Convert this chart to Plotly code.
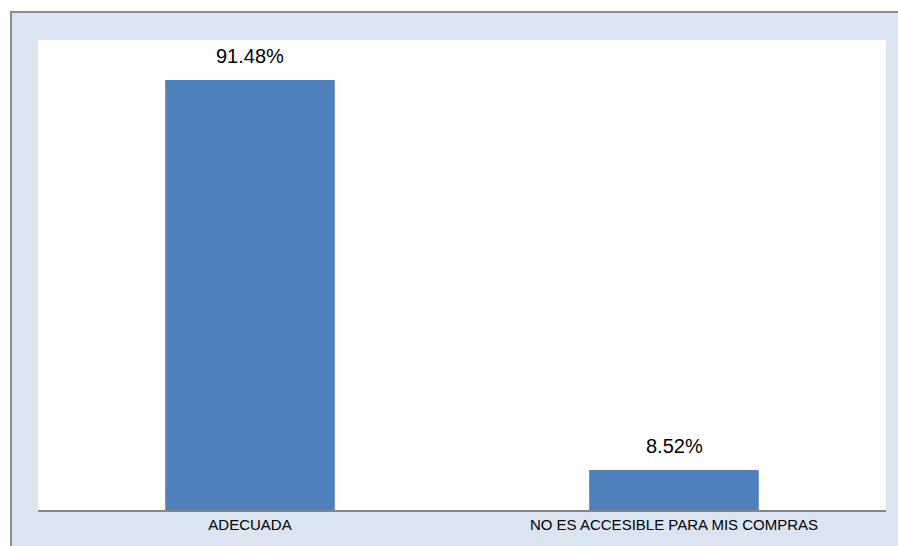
import plotly.graph_objects as go

# Survey result: opinion on the location
categories = ["ADECUADA", "NO ES ACCESIBLE PARA MIS COMPRAS"]
percentages = [91.48, 8.52]
value_labels = ["91.48%", "8.52%"]

W, H = 898, 546
M_L, M_R, M_T, M_B = 38, 12, 40, 36
PW, PH = W - M_L - M_R, H - M_T - M_B


def px_x(x):
    return (x - M_L) / PW


def px_y(y):
    return (H - M_B - y) / PH


fig = go.Figure(
    go.Bar(
        x=categories,
        y=percentages,
        width=0.4,
        marker=dict(color="#4F81BD", line=dict(width=0)),
        hoverinfo="skip",
    )
)

annotations = [
    dict(
        x=c, y=v, xref="x", yref="y", text=t, showarrow=False,
        yanchor="bottom", yshift=11,
        font=dict(family="Liberation Sans, Arial, sans-serif", size=20, color="#000000"),
    )
    for c, v, t in zip(categories, percentages, value_labels)
]

shapes = [
    # white margin outside the frame
    dict(type="rect", xref="paper", yref="paper", x0=px_x(0), x1=px_x(W), y0=px_y(0), y1=px_y(11),
         fillcolor="#FFFFFF", line=dict(width=0), layer="below"),
    dict(type="rect", xref="paper", yref="paper", x0=px_x(0), x1=px_x(10), y0=px_y(0), y1=px_y(H),
         fillcolor="#FFFFFF", line=dict(width=0), layer="below"),
    # frame lines
    dict(type="line", xref="paper", yref="paper", x0=px_x(10), x1=px_x(W), y0=px_y(12), y1=px_y(12),
         line=dict(color="#8C8C8C", width=2)),
    dict(type="line", xref="paper", yref="paper", x0=px_x(11), x1=px_x(11), y0=px_y(11), y1=px_y(H),
         line=dict(color="#8C8C8C", width=2)),
]

fig.update_layout(
    width=W,
    height=H,
    margin=dict(l=M_L, r=M_R, t=M_T, b=M_B, pad=0),
    paper_bgcolor="#DBE5F1",
    plot_bgcolor="#FFFFFF",
    showlegend=False,
    annotations=annotations,
    shapes=shapes,
    font=dict(family="Liberation Sans, Arial, sans-serif", color="#000000"),
    xaxis=dict(
        showline=True, linecolor="#868686", linewidth=2,
        showgrid=False, zeroline=False, ticks="",
        tickfont=dict(size=15, color="#000000"),
        fixedrange=True,
    ),
    yaxis=dict(
        range=[0, 100], visible=False, showgrid=False, zeroline=False,
        fixedrange=True,
    ),
)

fig.write_html("out.html", config=dict(displayModeBar=False))
